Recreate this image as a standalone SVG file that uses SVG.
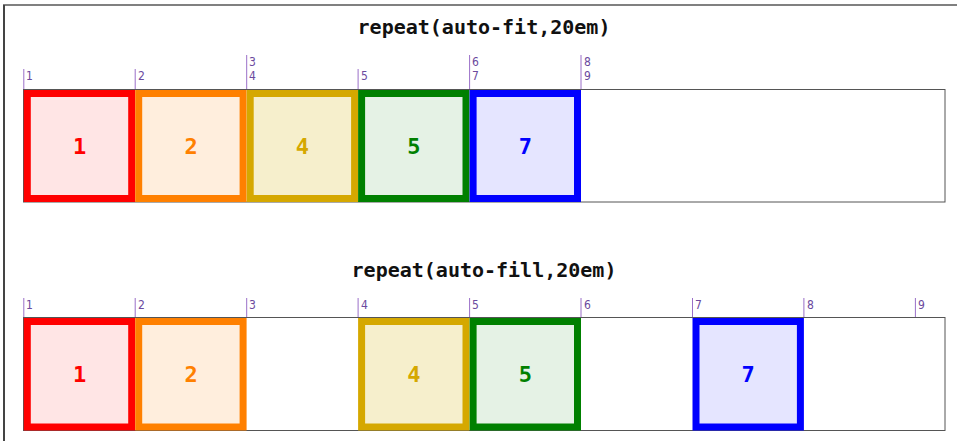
<svg xmlns="http://www.w3.org/2000/svg" width="957" height="441" viewBox="0 0 957 441">
<style>
.title{font-family:"DejaVu Sans Mono","Liberation Mono",monospace;font-weight:bold;font-size:20px;fill:#111;text-anchor:middle}
.box{fill:#fff;stroke:#555;stroke-width:1}
.gl{stroke:#9a6fc8;stroke-width:1}
.gn{font-family:"DejaVu Sans Condensed","DejaVu Sans",sans-serif;font-size:12px;fill:#6b4a9e}
.item{stroke-width:7}
.num{font-family:"DejaVu Sans Mono","Liberation Mono",monospace;font-weight:bold;font-size:22px;text-anchor:middle}
.red{fill:#ffe5e5;stroke:#ff0000}
.orange{fill:#ffeedd;stroke:#ff8000}
.gold{fill:#f6efcc;stroke:#d5a800}
.green{fill:#e5f2e5;stroke:#008000}
.blue{fill:#e5e5ff;stroke:#0000ff}
</style>
<g id="frame">
<line x1="3" y1="5" x2="957" y2="5" stroke="#808080" stroke-width="2"/>
<line x1="4" y1="5" x2="4" y2="441" stroke="#444" stroke-width="2"/>
</g>
<g id="fit">
<text class="title" x="484" y="34">repeat(auto-fit,20em)</text>
<rect class="box" x="23.5" y="89.5" width="921.5" height="112.5"/>
<g id="fit-lines">
<line class="gl" x1="23.8" y1="69" x2="23.8" y2="89"/><text class="gn" x="26" y="80">1</text>
<line class="gl" x1="135.2" y1="69" x2="135.2" y2="89"/><text class="gn" x="138" y="80">2</text>
<line class="gl" x1="246.7" y1="55" x2="246.7" y2="89"/><text class="gn" x="249" y="66">3</text><text class="gn" x="249" y="80">4</text>
<line class="gl" x1="358.1" y1="69" x2="358.1" y2="89"/><text class="gn" x="361" y="80">5</text>
<line class="gl" x1="469.6" y1="55" x2="469.6" y2="89"/><text class="gn" x="472" y="66">6</text><text class="gn" x="472" y="80">7</text>
<line class="gl" x1="581" y1="55" x2="581" y2="89"/><text class="gn" x="584" y="66">8</text><text class="gn" x="584" y="80">9</text>
</g>
<g id="fit-1"><rect class="item red" x="27.3" y="93.5" width="104.4" height="105"/><text class="num" x="79.5" y="154" fill="#ff0000">1</text></g>
<g id="fit-2"><rect class="item orange" x="138.7" y="93.5" width="104.4" height="105"/><text class="num" x="191" y="154" fill="#ff8000">2</text></g>
<g id="fit-4"><rect class="item gold" x="250.2" y="93.5" width="104.4" height="105"/><text class="num" x="302.4" y="154" fill="#d5a800">4</text></g>
<g id="fit-5"><rect class="item green" x="361.6" y="93.5" width="104.4" height="105"/><text class="num" x="413.8" y="154" fill="#008000">5</text></g>
<g id="fit-7"><rect class="item blue" x="473.1" y="93.5" width="104.4" height="105"/><text class="num" x="525.3" y="154" fill="#0000ff">7</text></g>
</g>
<g id="fill">
<text class="title" x="484" y="277">repeat(auto-fill,20em)</text>
<rect class="box" x="23.5" y="317.5" width="921.5" height="113"/>
<g id="fill-lines">
<line class="gl" x1="23.8" y1="298" x2="23.8" y2="317"/><text class="gn" x="26" y="309">1</text>
<line class="gl" x1="135.2" y1="298" x2="135.2" y2="317"/><text class="gn" x="138" y="309">2</text>
<line class="gl" x1="246.7" y1="298" x2="246.7" y2="317"/><text class="gn" x="249" y="309">3</text>
<line class="gl" x1="358.1" y1="298" x2="358.1" y2="317"/><text class="gn" x="361" y="309">4</text>
<line class="gl" x1="469.6" y1="298" x2="469.6" y2="317"/><text class="gn" x="472" y="309">5</text>
<line class="gl" x1="581" y1="298" x2="581" y2="317"/><text class="gn" x="584" y="309">6</text>
<line class="gl" x1="692.5" y1="298" x2="692.5" y2="317"/><text class="gn" x="695" y="309">7</text>
<line class="gl" x1="803.9" y1="298" x2="803.9" y2="317"/><text class="gn" x="807" y="309">8</text>
<line class="gl" x1="915.4" y1="298" x2="915.4" y2="317"/><text class="gn" x="918" y="309">9</text>
</g>
<g id="fill-1"><rect class="item red" x="27.3" y="321.5" width="104.4" height="105.5"/><text class="num" x="79.5" y="382" fill="#ff0000">1</text></g>
<g id="fill-2"><rect class="item orange" x="138.7" y="321.5" width="104.4" height="105.5"/><text class="num" x="191" y="382" fill="#ff8000">2</text></g>
<g id="fill-4"><rect class="item gold" x="361.6" y="321.5" width="104.4" height="105.5"/><text class="num" x="413.8" y="382" fill="#d5a800">4</text></g>
<g id="fill-5"><rect class="item green" x="473.1" y="321.5" width="104.4" height="105.5"/><text class="num" x="525.3" y="382" fill="#008000">5</text></g>
<g id="fill-7"><rect class="item blue" x="696" y="321.5" width="104.4" height="105.5"/><text class="num" x="748.2" y="382" fill="#0000ff">7</text></g>
</g>
</svg>
